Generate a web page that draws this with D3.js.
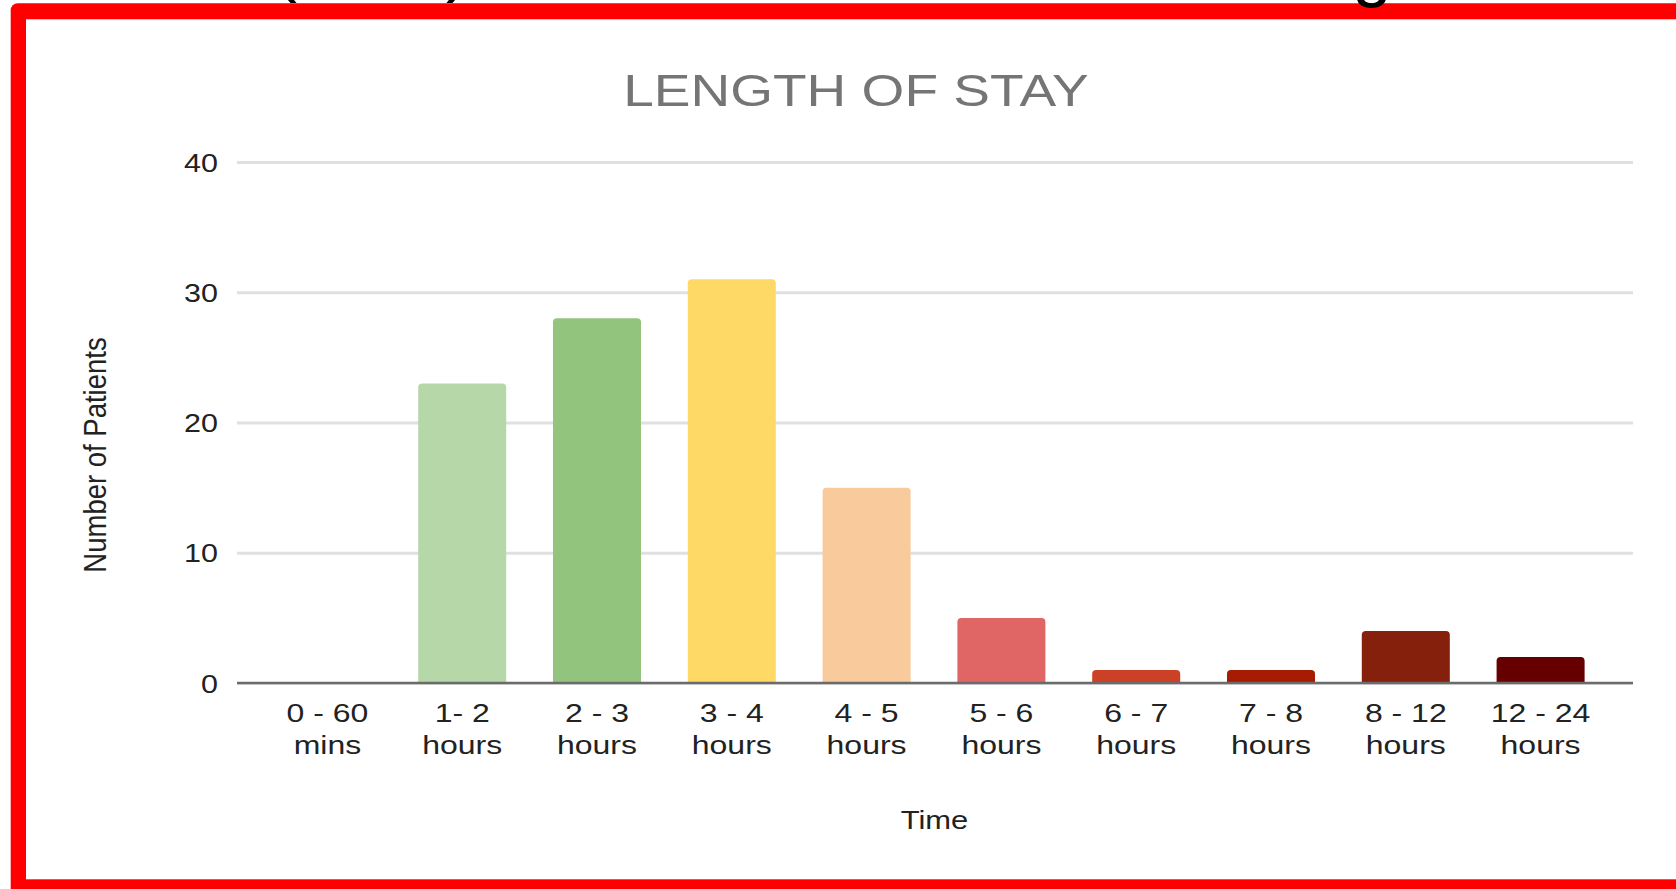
<!DOCTYPE html>
<html>
<head>
<meta charset="utf-8">
<script src="https://cdn.jsdelivr.net/npm/d3@7"></script>
<style>
  html, body { margin: 0; padding: 0; background: #ffffff; }
  svg { display: block; font-family: "Liberation Sans", Arial, sans-serif; }
</style>
</head>
<body>
<svg id="chart" width="1676" height="889"></svg>
<script>
// Length-of-stay buckets and patient counts
const categories = ["0 - 60 mins", "1- 2 hours", "2 - 3 hours", "3 - 4 hours", "4 - 5 hours",
                    "5 - 6 hours", "6 - 7 hours", "7 - 8 hours", "8 - 12 hours", "12 - 24 hours"];
const patients = [0, 23, 28, 31, 15, 5, 1, 1, 4, 2];
const yTicks = [0, 10, 20, 30, 40];

// One colour per bucket, green through yellow to dark red
const barColors = ["#d9ead3", "#b6d7a8", "#93c47d", "#ffd966", "#f9cb9c",
                   "#e06666", "#cc4125", "#a61c00", "#85200c", "#660000"];

const svg = d3.select("#chart");

// Red frame around the chart card
svg.append("rect").attr("x", 10.7).attr("y", 3.3).attr("width", 1800).attr("height", 1000)
   .attr("rx", 7).attr("fill", "#ff0000");
svg.append("rect").attr("x", 26).attr("y", 19.3).attr("width", 1800).attr("height", 860)
   .attr("fill", "#ffffff");

// Heading line above the frame (only its descenders fall inside the page)
const heading = svg.append("g").attr("font-size", 72).attr("fill", "#000");
heading.append("text").attr("transform", "translate(273,-12)").text("(");
heading.append("text").attr("transform", "translate(446,-12)").text(")");
heading.append("text").attr("transform", "translate(1352,-7)").text("g");

// Plot area
const plot = { left: 237, right: 1633, top: 162, bottom: 683 };

const y = d3.scaleLinear().domain([0, 40]).range([plot.bottom, plot.top]);
const x = d3.scaleBand().domain(categories).range([260, 1608])
  .paddingInner(0.347).paddingOuter(0.1735);
const color = d3.scaleOrdinal().domain(categories).range(barColors);

// Text in this chart is drawn slightly wider than its natural proportions
const TICK_SX = 1.22, CAT_SX = 1.28;

// Y axis: gridlines + tick labels
const yAxis = svg.append("g")
  .attr("transform", `translate(${plot.left},0)`)
  .call(d3.axisLeft(y).tickValues(yTicks).tickSize(-(plot.right - plot.left)).tickPadding(19));
yAxis.select(".domain").remove();
yAxis.selectAll(".tick line").attr("stroke", "#e0e0e0").attr("stroke-width", 3);
yAxis.selectAll(".tick text")
  .attr("x", null).attr("dy", null)
  .attr("transform", `translate(-19,9) scale(${TICK_SX},1)`)
  .attr("font-size", 25).attr("font-family", "Liberation Sans, Arial, sans-serif")
  .attr("fill", "#222").attr("text-anchor", "end");

// Bars with slightly rounded top corners
const r = 4;
svg.append("g").selectAll("path")
  .data(categories.map((c, i) => ({ c, v: patients[i] })))
  .join("path")
  .attr("fill", d => color(d.c))
  .attr("d", d => {
    const x0 = x(d.c), x1 = x0 + x.bandwidth();
    const y0 = y(0), y1 = y(d.v);
    if (y0 - y1 <= 0) return "";
    const rr = Math.min(r, (y0 - y1));
    const p = d3.path();
    p.moveTo(x0, y0);
    p.lineTo(x0, y1 + rr);
    p.quadraticCurveTo(x0, y1, x0 + rr, y1);
    p.lineTo(x1 - rr, y1);
    p.quadraticCurveTo(x1, y1, x1, y1 + rr);
    p.lineTo(x1, y0);
    p.closePath();
    return p.toString();
  });

// Baseline
svg.append("line")
  .attr("x1", plot.left).attr("x2", plot.right)
  .attr("y1", y(0)).attr("y2", y(0))
  .attr("stroke", "#6b6b6b").attr("stroke-width", 2.5);

// X axis: two-line category labels
const xAxis = svg.append("g")
  .attr("transform", `translate(0,${y(0)})`)
  .call(d3.axisBottom(x).tickSize(0));
xAxis.select(".domain").remove();
xAxis.selectAll(".tick text").each(function (d) {
  const t = d3.select(this);
  const cut = d.lastIndexOf(" ");
  const lines = [d.slice(0, cut), d.slice(cut + 1)];
  t.text(null).attr("y", null).attr("dy", null)
   .attr("font-size", 25).attr("font-family", "Liberation Sans, Arial, sans-serif")
   .attr("fill", "#222").attr("text-anchor", "middle")
   .attr("transform", `scale(${CAT_SX},1)`);
  lines.forEach((s, k) => t.append("tspan").attr("x", 0).attr("y", 39 + k * 32).text(s));
});

// Axis titles
svg.append("text")
  .attr("transform", `translate(934.5,829) scale(1.19,1)`)
  .attr("text-anchor", "middle").attr("font-size", 26).attr("fill", "#222")
  .text("Time");

svg.append("text")
  .attr("transform", `translate(106,455) scale(1.15,1) rotate(-90)`)
  .attr("text-anchor", "middle").attr("font-size", 27.5).attr("fill", "#222")
  .text("Number of Patients");

// Chart title
svg.append("text")
  .attr("transform", `translate(856,106) scale(1.25,1)`)
  .attr("text-anchor", "middle").attr("font-size", 44).attr("fill", "#757575")
  .text("LENGTH OF STAY");
</script>
</body>
</html>
